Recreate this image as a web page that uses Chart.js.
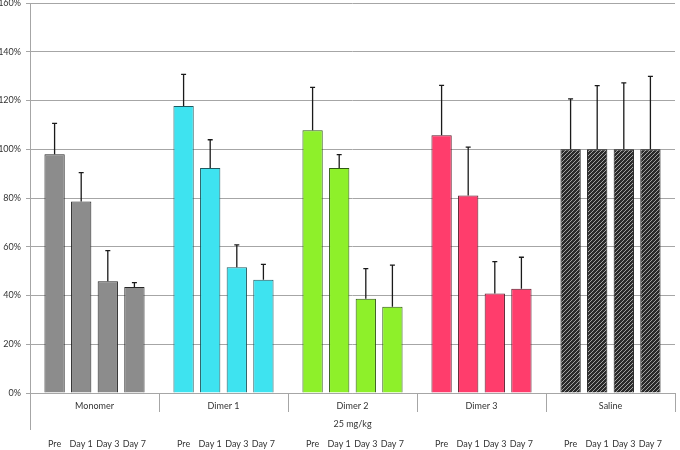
<!DOCTYPE html>
<html><head><meta charset="utf-8">
<script src="https://cdn.jsdelivr.net/npm/chart.js@4.4.1/dist/chart.umd.min.js"></script>
<style>html,body{margin:0;padding:0;background:#fff}#wrap{width:680px;height:450px;position:relative}</style>
</head><body><div id="wrap"><canvas id="c"></canvas></div>
<script>
const groups = ['Monomer', 'Dimer 1', 'Dimer 2', 'Dimer 3', 'Saline'];
const timepoints = ['Pre', 'Day 1', 'Day 3', 'Day 7'];
const doseLabel = '25 mg/kg';
const yTickValues = [0, 20, 40, 60, 80, 100, 120, 140, 160];

// mean values (%) per time point, one entry per group
const preValues  = [98.0, 117.7, 107.8, 105.7, 100];
const day1Values = [78.6, 92.3, 92.3, 81.0, 100];
const day3Values = [45.8, 51.6, 38.7, 40.8, 100];
const day7Values = [43.5, 46.5, 35.4, 42.8, 100];

// upper error (SD, %) per time point, one entry per group
const preErrors  = [12.6, 13.0, 17.6, 20.5, 20.7];
const day1Errors = [11.8, 11.6, 5.5, 19.9, 26.1];
const day3Errors = [12.6, 9.2, 12.3, 13.1, 27.2];
const day7Errors = [1.8, 6.3, 17.1, 12.9, 29.9];

const seriesValues = [preValues, day1Values, day3Values, day7Values];
const seriesErrors = [preErrors, day1Errors, day3Errors, day7Errors];

// hatched pattern for saline
function hatch() {
  const p = document.createElement('canvas');
  p.width = 4; p.height = 4;
  const g = p.getContext('2d');
  g.fillStyle = '#2a2a2a';
  g.fillRect(0, 0, 4, 4);
  g.strokeStyle = '#a0a0a0';
  g.lineWidth = 1;
  g.beginPath();
  g.moveTo(-1, 5); g.lineTo(5, -1);
  g.moveTo(-1, 1); g.lineTo(1, -1);
  g.moveTo(3, 5); g.lineTo(5, 3);
  g.stroke();
  return g.createPattern(p, 'repeat');
}
const groupColors = ['#8c8c8c', '#3ee3f0', '#8ef02a', '#ff3d6c', hatch()];
const groupBorders = ['#262626', '#1f5a60', '#2f5a10', '#5a1a2a', '#1a1a1a'];

const FONT = 'Lato, "Liberation Sans", sans-serif';
const TXT = '#333333';

const errorBars = {
  id: 'errorBars',
  afterDatasetsDraw(chart) {
    const ctx = chart.ctx, y = chart.scales.y;
    ctx.save();
    ctx.strokeStyle = '#1a1a1a';
    ctx.lineWidth = 1.3;
    chart.data.datasets.forEach((ds, di) => {
      const meta = chart.getDatasetMeta(di);
      meta.data.forEach((bar, i) => {
        const top = y.getPixelForValue(ds.data[i] + seriesErrors[di][i]);
        const base = y.getPixelForValue(ds.data[i]);
        ctx.beginPath();
        ctx.moveTo(bar.x, base);
        ctx.lineTo(bar.x, top);
        ctx.moveTo(bar.x - 2.5, top);
        ctx.lineTo(bar.x + 2.5, top);
        ctx.stroke();
      });
    });
    ctx.restore();
  }
};

const axisLabels = {
  id: 'axisLabels',
  afterDraw(chart) {
    const ctx = chart.ctx, a = chart.chartArea, x = chart.scales.x;
    ctx.save();
    ctx.strokeStyle = '#a6a6a6';
    ctx.lineWidth = 1;
    // y axis line extended downward
    ctx.beginPath();
    ctx.moveTo(a.left + 0.5, a.top);
    ctx.lineTo(a.left + 0.5, a.bottom + 37);
    // x axis line
    ctx.moveTo(a.left, a.bottom + 0.5);
    ctx.lineTo(a.right, a.bottom + 0.5);
    // group separators
    const n = groups.length;
    const w = (a.right - a.left) / n;
    for (let i = 1; i <= n; i++) {
      const xx = Math.round(a.left + i * w) + 0.5;
      ctx.moveTo(xx, a.bottom);
      ctx.lineTo(xx, a.bottom + 19);
    }
    ctx.stroke();
    ctx.fillStyle = TXT;
    ctx.font = '9px ' + FONT;
    ctx.textAlign = 'center';
    ctx.textBaseline = 'middle';
    groups.forEach((g, i) => {
      ctx.fillText(g, x.getPixelForValue(i), a.bottom + 13);
    });
    ctx.fillText(doseLabel, (a.left + a.right) / 2, a.bottom + 31);
    chart.data.datasets.forEach((ds, di) => {
      const meta = chart.getDatasetMeta(di);
      meta.data.forEach((bar) => {
        ctx.fillText(timepoints[di], bar.x, a.bottom + 51);
      });
    });
    ctx.restore();
  }
};

new Chart(document.getElementById('c'), {
  type: 'bar',
  data: {
    labels: groups,
    datasets: seriesValues.map((vals, di) => ({
      label: timepoints[di],
      data: vals,
      backgroundColor: groupColors,
      borderColor: groupBorders,
      borderWidth: 1,
      categoryPercentage: 0.825,
      barPercentage: 0.763
    }))
  },
  options: {
    responsive: true,
    maintainAspectRatio: false,
    animation: false,
    layout: { padding: { top: 3, right: 5, bottom: 57, left: 0 } },
    plugins: { legend: { display: false }, tooltip: { enabled: false } },
    scales: {
      x: { display: false },
      y: {
        min: 0, max: 160,
        afterBuildTicks(s) { s.ticks = yTickValues.map(v => ({ value: v })); },
        afterFit(s) { s.width = 30; s.paddingTop = 0; s.paddingBottom = 0; },
        border: { display: false },
        grid: { color: '#a6a6a6', lineWidth: 1, tickLength: 4, drawTicks: true },
        ticks: {
          padding: 5,
          color: TXT,
          font: { family: FONT, size: 9 },
          callback: v => v + '%'
        }
      }
    }
  },
  plugins: [errorBars, axisLabels]
});
</script></body></html>
